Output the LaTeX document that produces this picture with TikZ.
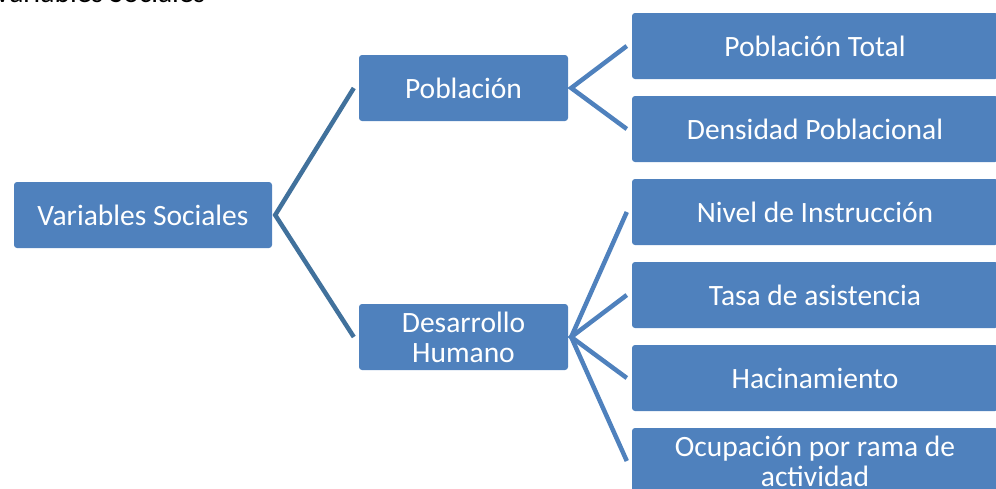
\documentclass[tikz,border=0pt]{standalone}
\usepackage{fontspec}
\setmainfont{Carlito}
\definecolor{boxblue}{HTML}{4F81BD}
\definecolor{linedark}{HTML}{41719C}
\begin{document}
\begin{tikzpicture}[x=1pt,y=-1pt,
  box/.style={fill=boxblue, rounded corners=3pt, inner sep=0pt, text=white,
    font=\fontsize{29.5}{30}\selectfont, align=center},
  conA/.style={draw=linedark, line width=4.5pt},
  conB/.style={draw=boxblue, line width=4.5pt}]
\useasboundingbox (0,0) rectangle (996,488);
\clip (0,0) rectangle (996,488);
\node[anchor=base west, inner sep=0pt, font=\fontsize{29.5}{30}\selectfont] (cap) at (-6,2) {Variables Sociales};
\node[box, minimum width=258pt, minimum height=66pt] (vs) at (143,215) {Variables Sociales};
\node[box, minimum width=209pt, minimum height=66pt] (pob) at (463.5,88) {Población};
\node[box, minimum width=209pt, minimum height=66pt] (dh) at (463.5,337) {Desarrollo\\Humano};
\node[box, minimum width=366pt, minimum height=66pt] (pt) at (815,46) {Población Total};
\node[box, minimum width=366pt, minimum height=66pt] (dp) at (815,129) {Densidad Poblacional};
\node[box, minimum width=366pt, minimum height=66pt] (ni) at (815,212) {Nivel de Instrucción};
\node[box, minimum width=366pt, minimum height=66pt] (ta) at (815,295) {Tasa de asistencia};
\node[box, minimum width=366pt, minimum height=66pt] (ha) at (815,378) {Hacinamiento};
\node[box, minimum width=366pt, minimum height=66pt] (oc) at (815,461) {Ocupación por rama de\\actividad};
\coordinate (vsR) at ([xshift=3pt]vs.east);
\coordinate (pobR) at ([xshift=3pt]pob.east);
\coordinate (dhR) at ([xshift=3pt]dh.east);
\draw[conA] ([xshift=-5pt]pob.west) -- (vsR) -- ([xshift=-5pt]dh.west);
\draw[conB] ([xshift=-5pt]pt.west) -- (pobR) -- ([xshift=-5pt]dp.west);
\draw[conB] ([xshift=-5pt]ni.west) -- (dhR) -- ([xshift=-5pt]oc.west);
\draw[conB] ([xshift=-5pt]ta.west) -- (dhR) -- ([xshift=-5pt]ha.west);
\end{tikzpicture}
\end{document}
